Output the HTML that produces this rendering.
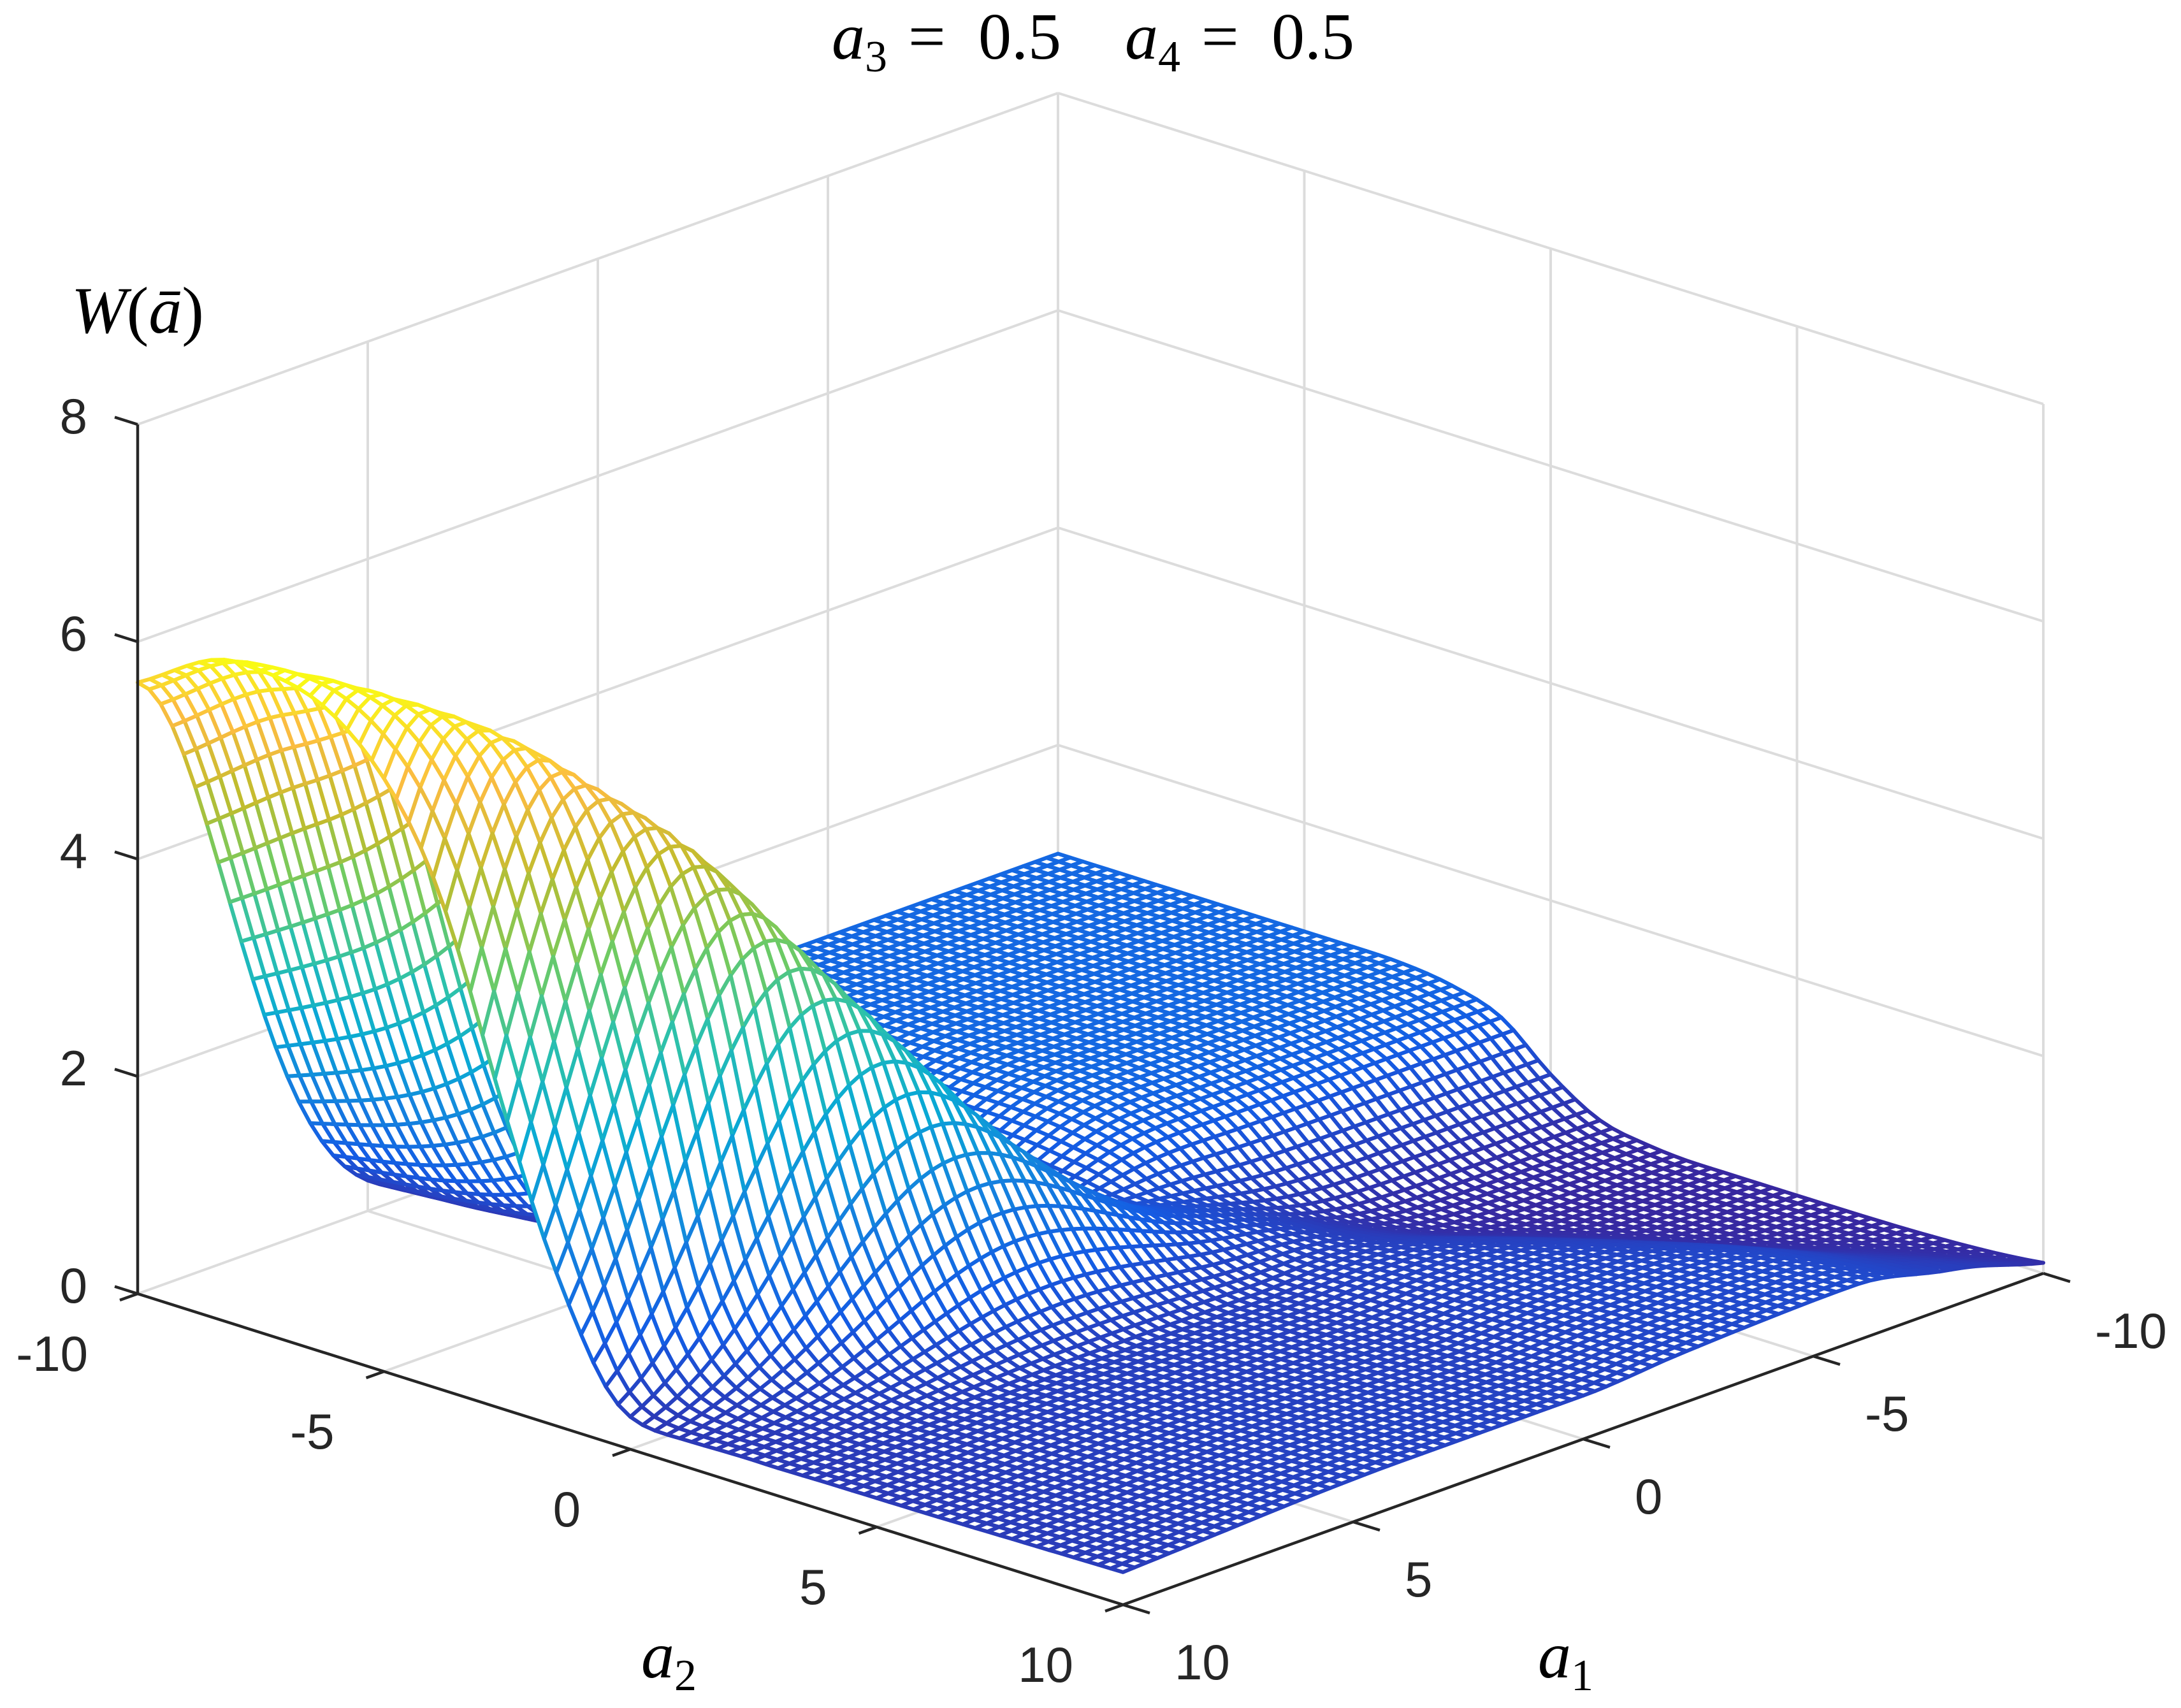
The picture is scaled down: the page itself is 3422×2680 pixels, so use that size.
<!DOCTYPE html>
<html><head><meta charset="utf-8"><title>W surface</title>
<style>html,body{margin:0;padding:0;background:#fff}svg{display:block}</style></head>
<body>
<svg id="chart" xmlns="http://www.w3.org/2000/svg" width="3422" height="2680" viewBox="0 0 3422 2680">
<rect x="0" y="0" width="3422" height="2680" fill="#fff"/>
<g id="grid"></g>
<g id="mesh"></g>
<g id="axes"></g>
<g id="labels" font-family="'Liberation Sans', sans-serif" font-size="78" fill="#262626"></g>
<text font-family="'Liberation Serif', serif" font-size="104" fill="#000" y="92">
<tspan x="1305" font-style="italic">a</tspan><tspan font-size="70" dy="20">3</tspan><tspan dy="-20" x="1425">=</tspan><tspan x="1535">0.5</tspan>
<tspan x="1765" font-style="italic">a</tspan><tspan font-size="70" dy="20">4</tspan><tspan dy="-20" x="1885">=</tspan><tspan x="1995">0.5</tspan>
</text>
<text font-family="'Liberation Serif', serif" font-size="104" fill="#000" x="112" y="522" font-style="italic">W<tspan font-style="normal">(</tspan>ā<tspan font-style="normal">)</tspan></text>
<text font-family="'Liberation Serif', serif" font-size="104" fill="#000" x="1006" y="2632"><tspan font-style="italic">a</tspan><tspan font-size="70" dy="20">2</tspan></text>
<text font-family="'Liberation Serif', serif" font-size="104" fill="#000" x="2413" y="2632"><tspan font-style="italic">a</tspan><tspan font-size="70" dy="20">1</tspan></text>
</svg>
<script>
// ---- data ----
const a2Nodes = [-10,-8,-6,-4,-3,-2,-1,0,1,2,3,4,6,8,10];
const ridgeHeight = [5.65,6.1,6.05,5.75,5.35,4.8,3.9,2.6,1.3,0.4,0.05,0,0,0,0];
const ridgeCenterA1 = [10.2,10,9.5,8.6,7.9,7.0,6.0,4.6,3.5,3.0,3,3,3,3,3];
const ridgeWidth = [3.0,3.0,3.0,3.1,3.1,3.2,3.3,3.4,3.5,3.5,3.5,3.5,3.5,3.5,3.5];
const backByA2 = [1,1,1,1,0.99,0.93,0.78,0.4,0.12,0.03,0,0,0,0,0];
const frontByA2 = [0,0,0,0,0,0,0.02,0.12,0.27,0.33,0.34,0.35,0.36,0.38,0.40];
const frontEdgeA1 = [-2.5,-2.5,-2.5,-2.5,-2.5,-2.5,-2.5,-2.5,-3,-3.5,-4.2,-5,-6.5,-8,-9.2];
const a1Nodes = [-10,-8,-6,-4,-2,0,2,4,6,8,10];
const backByA1 = [1,1,1,1,0.93,0.5,0.05,0,0,0,0];
const frontByA1 = [1,1,1.3,1.25,1.15,1.0,1,1,0.95,0.85,0.75];
const a1Ticks = [-10,-5,0,5,10];
const a2Ticks = [-10,-5,0,5,10];
const zTicks = [0,2,4,6,8];
const a1TickLabels = ['-10','-5','0','5','10'];
const a2TickLabels = ['-10','-5','0','5','10'];
const zTickLabels = ['0','2','4','6','8'];

const NS = 'http://www.w3.org/2000/svg';
const X0 = 1711, Y0 = 2014;
function P(a1, a2, z){ return [X0 - 72.2*a1 + 77.3*a2, Y0 + 26*a1 + 24.4*a2 - 170.5*z]; }
function interp(nodes, vals, x){
  const n = nodes.length;
  if (x <= nodes[0]) return vals[0];
  if (x >= nodes[n-1]) return vals[n-1];
  let k = 1; while (x > nodes[k]) k++;
  const x0 = nodes[k-1], x1 = nodes[k], y0 = vals[k-1], y1 = vals[k], h = x1-x0;
  const slope = i => {
    if (i === 0) return (vals[1]-vals[0])/(nodes[1]-nodes[0]);
    if (i === n-1) return (vals[n-1]-vals[n-2])/(nodes[n-1]-nodes[n-2]);
    const dl = (vals[i]-vals[i-1])/(nodes[i]-nodes[i-1]), dr = (vals[i+1]-vals[i])/(nodes[i+1]-nodes[i]);
    if (dl*dr <= 0) return 0;
    return (dl+dr)/2;
  };
  const m0 = slope(k-1)*h, m1 = slope(k)*h, t = (x-x0)/h, t2 = t*t, t3 = t2*t;
  return (2*t3-3*t2+1)*y0 + (t3-2*t2+t)*m0 + (-2*t3+3*t2)*y1 + (t3-t2)*m1;
}
function W(a1, a2){
  const h = interp(a2Nodes, ridgeHeight, a2), c = interp(a2Nodes, ridgeCenterA1, a2), w = interp(a2Nodes, ridgeWidth, a2);
  const ridge = Math.max(0,h)*Math.exp(-Math.pow((a1-c)/w,2));
  const back = interp(a1Nodes, backByA1, a1)*interp(a2Nodes, backByA2, a2);
  const edge = interp(a2Nodes, frontEdgeA1, a2);
  const front = interp(a2Nodes, frontByA2, a2)*interp(a1Nodes, frontByA1, a1)/(1+Math.exp(-(a1-edge)/0.7));
  return ridge + back + front;
}
const parula = [[55,40,160],[20,92,228],[20,132,222],[10,170,212],[44,193,172],[113,203,97],[192,188,46],[251,188,65],[249,251,20]];
function cmap(t){
  t = Math.max(0, Math.min(1, t)); const s = t*(parula.length-1); const k = Math.min(parula.length-2, Math.floor(s)); const f = s-k;
  const c = parula[k].map((v,i)=>Math.round(v+f*(parula[k+1][i]-v)));
  return 'rgb('+c.join(',')+')';
}
function line(g, p, q, color, width, name){
  const l = document.createElementNS(NS,'line');
  l.setAttribute('x1',p[0].toFixed(1)); l.setAttribute('y1',p[1].toFixed(1));
  l.setAttribute('x2',q[0].toFixed(1)); l.setAttribute('y2',q[1].toFixed(1));
  l.setAttribute('stroke',color); l.setAttribute('stroke-width',width);
  
  
  g.appendChild(l);
}
const grid = document.getElementById('grid'), gc = '#dcdcdc', gw = 4;
a1Ticks.forEach(t=>{ if (t>-10 && t<10) line(grid, P(t,-10,0), P(t,10,0), gc, gw, 'floor-grid-line'); });
a2Ticks.forEach(t=>{ if (t>-10 && t<10) line(grid, P(-10,t,0), P(10,t,0), gc, gw, 'floor-grid-line'); });
line(grid, P(10,-10,0), P(-10,-10,0), gc, gw, 'floor-grid-line');
line(grid, P(-10,-10,0), P(-10,10,0), gc, gw, 'floor-grid-line');
a1Ticks.forEach(t=>{ if (t<10) line(grid, P(t,-10,0), P(t,-10,8), gc, gw, 'wall-grid-line'); });
a2Ticks.forEach(t=>{ if (t>-10) line(grid, P(-10,t,0), P(-10,t,8), gc, gw, 'wall-grid-line'); });
zTicks.forEach(z=>{ if (z>0){ line(grid, P(10,-10,z), P(-10,-10,z), gc, gw, 'wall-grid-line'); line(grid, P(-10,-10,z), P(-10,10,z), gc, gw, 'wall-grid-line'); } });
const N = 81, A = [];
for (let i=0;i<N;i++) A.push(-10 + 20*i/(N-1));
const Z = A.map(a1 => A.map(a2 => W(a1,a2)));
let zmax = 0; Z.forEach(r=>r.forEach(v=>{ if (v>zmax) zmax=v; }));
const quads = [];
for (let i=0;i<N-1;i++) for (let j=0;j<N-1;j++){
  const za=(Z[i][j]+Z[i+1][j]+Z[i+1][j+1]+Z[i][j+1])/4;
  const a1=(A[i]+A[i+1])/2, a2=(A[j]+A[j+1])/2;
  quads.push({i,j,za,d:13180*a1+12310*a2+3771*za});
}
quads.sort((p,q)=>p.d-q.d);
const mesh = document.getElementById('mesh');
const frag = document.createDocumentFragment();
quads.forEach(q=>{
  const {i,j}=q;
  const pts=[P(A[i],A[j],Z[i][j]),P(A[i+1],A[j],Z[i+1][j]),P(A[i+1],A[j+1],Z[i+1][j+1]),P(A[i],A[j+1],Z[i][j+1])];
  const pg = document.createElementNS(NS,'polygon');
  pg.setAttribute('points', pts.map(p=>p[0].toFixed(1)+','+p[1].toFixed(1)).join(' '));
  pg.setAttribute('fill','#fff');
  pg.setAttribute('stroke', cmap(q.za/zmax));
  pg.setAttribute('stroke-width','6');
  pg.setAttribute('stroke-linejoin','round');
  
  
  frag.appendChild(pg);
});
mesh.appendChild(frag);
const ax = document.getElementById('axes'), ac = '#262626', aw = 4.5;
line(ax, P(10,-10,0), P(10,-10,8), ac, aw, 'z-axis-line');
line(ax, P(10,-10,0), P(10,10,0), ac, aw, 'a2-axis-line');
line(ax, P(10,10,0), P(-10,10,0), ac, aw, 'a1-axis-line');
const labels = document.getElementById('labels');
function label(x, y, txt, anchor, name){
  const t = document.createElementNS(NS,'text');
  t.setAttribute('x', x.toFixed(1)); t.setAttribute('y', y.toFixed(1));
  t.setAttribute('text-anchor', anchor); t.setAttribute('dominant-baseline','central');
  t.textContent = txt;
  
  
  labels.appendChild(t);
}
zTicks.forEach((z,k)=>{
  const p = P(10,-10,z);
  line(ax, p, [p[0]-36, p[1]-11.4], ac, aw, 'z-tick');
  label(137, p[1]-13, zTickLabels[k], 'end', 'z-tick-label');
});
a2Ticks.forEach((t,k)=>{
  const p = P(10,t,0);
  line(ax, p, [p[0]-28, p[1]+10], ac, aw, 'a2-tick');
  label(p[0]-78, p[1]+94, a2TickLabels[k], 'end', 'a2-tick-label');
});
a1Ticks.forEach((t,k)=>{
  const p = P(t,10,0);
  line(ax, p, [p[0]+42, p[1]+13], ac, aw, 'a1-tick');
  label(p[0]+81, p[1]+90, a1TickLabels[k], 'start', 'a1-tick-label');
});
</script>
</body></html>
